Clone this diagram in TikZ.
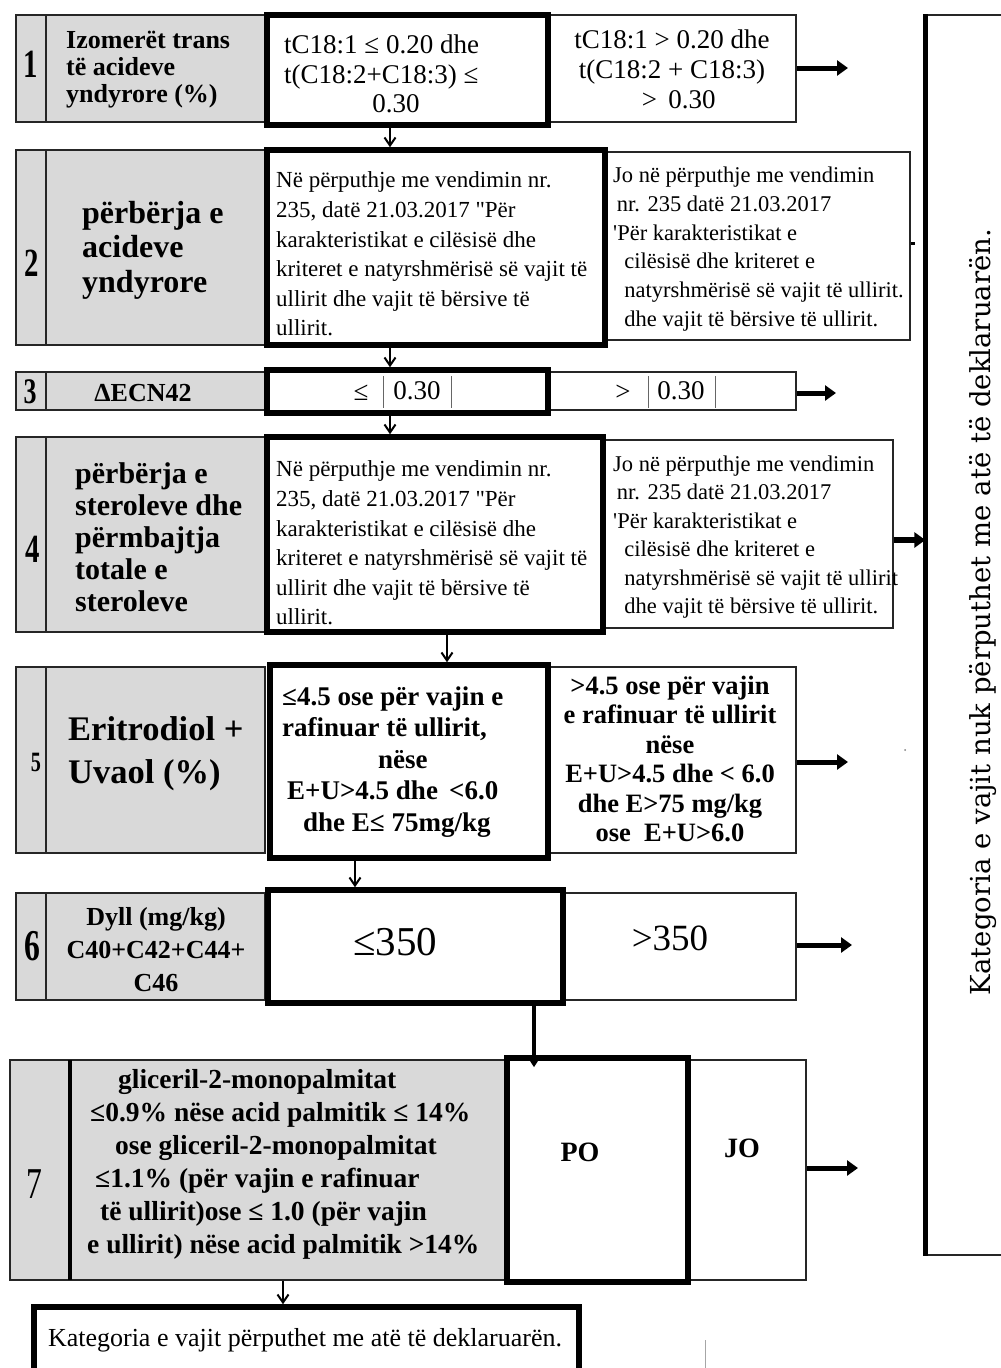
\documentclass[tikz,border=0pt]{standalone}
\usepackage{fontspec}
\usepackage{graphicx}
\setmainfont{Liberation Serif}
\newfontfamily\sidefont{DejaVu Serif}
\newfontfamily\plainfont{Liberation Serif}
\usetikzlibrary{arrows.meta,fit}
\definecolor{cellgray}{HTML}{D9D9D9}
\newcommand\fsz[2]{\fontsize{#1}{#2}\selectfont}
\newcommand\narrow[1]{\scalebox{0.72}[1]{#1}}
\newcommand\dq{{\plainfont"}}
\newcommand\sq{{\plainfont'}}

\tikzset{
  graycell/.style={fill=cellgray, draw=black!85, line width=1.3pt, inner sep=0pt},
  nobox/.style={fill=white, draw=black!85, line width=1.3pt, inner sep=0pt},
  okbox/.style={draw=black, line width=5.5pt, inner sep=0pt},
  rule/.style={draw=black!85, line width=1.3pt},
  num/.style={font=\bfseries\fsz{40}{42}, inner sep=0pt},
  lab/.style={font=\bfseries\fsz{26}{27}, inner sep=0pt},
  txt/.style={font=\fsz{27}{30}, inner sep=0pt},
  small/.style={font=\fsz{23}{29.6}, inner sep=0pt, align=left, anchor=west},
  bold/.style={font=\bfseries\fsz{27}{29}, inner sep=0pt, align=center},
  dn/.style={-{Straight Barb[length=8pt,width=11pt,line width=2pt]}, line width=2pt},
  side/.style={-{Triangle[length=11pt,width=15pt]}, line width=5pt},
  bar/.style={draw=black!60, line width=1pt}
}

\begin{document}
\begin{tikzpicture}[x=1pt,y=-1pt]
\useasboundingbox (0,0) rectangle (1001,1368);
\fill[white] (0,0) rectangle (1001,1368);

% ---------- right-hand result box ----------
\node[nobox, fit={(926,15)(1012,1255)}] (big) {};
\draw[line width=5pt] (big.north west) -- (big.south west);
\node[rotate=90, font=\sidefont\fsz{27.5}{30}, inner sep=0pt] (bigtxt) at (983,612)
  {Kategoria e vajit nuk përputhet me atë të deklaruarën.};

% ---------- row 1 ----------
\node[graycell, fit={(16,15)(265,122)}] (r1g) {};
\draw[rule] (46,15) -- (46,122);
\node[nobox, fit={(548,15)(796,122)}] (r1no) {};
\node[okbox, fit={(267,15)(548,125)}] (r1ok) {};
\node[num] (n1) at (31,64) {\narrow{1}};
\node[lab, align=left, anchor=west] (l1) at (66,70) {Izomerët trans\\të acideve\\yndyrore (\%)};
\node[txt, align=left, anchor=west] (t1a) at (284,62) {tC18:1 ≤ 0.20 dhe\\t(C18:2+C18:3) ≤};
\node[txt] (t1b) at (396,104) {0.30};
\node[txt, align=center] (t1c) at (672,69) {tC18:1 > 0.20 dhe\\t(C18:2 + C18:3)\\ \ \ > \,0.30};
\coordinate (e1) at (848,68);
\draw[side] (r1no.east |- e1) -- (e1);

% ---------- row 2 ----------
\node[graycell, fit={(16,150)(265,345)}] (r2g) {};
\draw[rule] (46,150) -- (46,345);
\node[nobox, fit={(605,152)(910,340)}] (r2no) {};
\node[okbox, fit={(267,150)(605,345)}] (r2ok) {};
\node[num] (n2) at (32,263) {\narrow{2}};
\node[lab, font=\bfseries\fsz{32}{34.5}, align=left, anchor=west] (l2) at (82,250) {përbërja e\\acideve\\yndyrore};
\node[small] (t2a) at (276,254) {Në përputhje me vendimin nr.\\235, datë 21.03.2017 \dq Për\\karakteristikat e cilësisë dhe\\kriteret e natyrshmërisë së vajit të\\ullirit dhe vajit të bërsive të\\ullirit.};
\node[small, font=\fsz{22.5}{28.8}] (t2b) at (613,249) {Jo në përputhje me vendimin\\\,nr. 235 datë 21.03.2017\\\sq Për karakteristikat e\\\ \ cilësisë dhe kriteret e\\\ \ natyrshmërisë së vajit të ullirit.\\\ \ dhe vajit të bërsive të ullirit.};
\draw[line width=3pt] (r2no.east |- 0,243) -- ++(4,0);

% ---------- row 3 ----------
\node[graycell, fit={(16,372)(265,410)}] (r3g) {};
\draw[rule] (46,372) -- (46,410);
\node[nobox, fit={(548,372)(796,410)}] (r3no) {};
\node[okbox, fit={(267,370)(548,413)}] (r3ok) {};
\node[num, font=\bfseries\fsz{36}{38}] (n3) at (30,392) {\narrow{3}};
\node[lab] (l3) at (143,393) {ΔECN42};
\node[txt] (t3a) at (361,393) {≤};
\draw[bar] (383,376) -- (383,408);
\node[txt] (t3b) at (417,391) {0.30};
\draw[bar] (451,376) -- (451,408);
\node[txt] (t3c) at (623,393) {>};
\draw[bar] (648,376) -- (648,408);
\node[txt] (t3d) at (681,391) {0.30};
\draw[bar] (715,376) -- (715,408);
\coordinate (e3) at (836,393);
\draw[side] (r3no.east |- e3) -- (e3);

% ---------- row 4 ----------
\node[graycell, fit={(16,437)(265,632)}] (r4g) {};
\draw[rule] (46,437) -- (46,632);
\node[nobox, fit={(603,440)(893,628)}] (r4no) {};
\node[okbox, fit={(267,437)(603,632)}] (r4ok) {};
\node[num] (n4) at (33,549) {\narrow{4}};
\node[lab, font=\bfseries\fsz{30}{32}, align=left, anchor=west] (l4) at (75,537) {përbërja e\\steroleve dhe\\përmbajtja\\totale e\\steroleve};
\node[small] (t4a) at (276,543) {Në përputhje me vendimin nr.\\235, datë 21.03.2017 \dq Për\\karakteristikat e cilësisë dhe\\kriteret e natyrshmërisë së vajit të\\ullirit dhe vajit të bërsive të\\ullirit.};
\node[small, font=\fsz{22.5}{28.4}] (t4b) at (613,537) {Jo në përputhje me vendimin\\\,nr. 235 datë 21.03.2017\\\sq Për karakteristikat e\\\ \ cilësisë dhe kriteret e\\\ \ natyrshmërisë së vajit të ullirit\\\ \ dhe vajit të bërsive të ullirit.};
\draw[side, line width=6pt] (r4no.east |- 0,540) -- (big.west |- 0,540);

% ---------- row 5 ----------
\node[graycell, fit={(16,667)(265,853)}] (r5g) {};
\draw[rule] (46,667) -- (46,853);
\node[nobox, fit={(548,667)(796,853)}] (r5no) {};
\node[okbox, fit={(270,665)(548,858)}] (r5ok) {};
\node[num, font=\bfseries\fsz{28}{30}] (n5) at (36,762) {\narrow{5}};
\node[lab, font=\bfseries\fsz{34.5}{43}, align=left, anchor=west] (l5) at (68,754) {Eritrodiol +\\Uvaol (\%)};
\node[bold, font=\bfseries\fsz{27}{31.5}, align=left, anchor=west] (t5a) at (282,762) {≤4.5 ose për vajin e\\rafinuar të ullirit,\\\hspace*{96pt}nëse\\\hspace*{5pt}E+U>4.5 dhe \,<6.0\\\hspace*{21pt}dhe E≤ 75mg/kg};
\node[bold, font=\bfseries\fsz{26.5}{29.5}] (t5b) at (670,759) {>4.5 ose për vajin\\e rafinuar të ullirit\\nëse\\E+U>4.5 dhe < 6.0\\dhe E>75 mg/kg\\ose \ E+U>6.0};
\coordinate (e5) at (848,762);
\draw[side] (r5no.east |- e5) -- (e5);

% ---------- row 6 ----------
\node[graycell, fit={(16,893)(265,1000)}] (r6g) {};
\draw[rule] (46,893) -- (46,1000);
\node[nobox, fit={(563,893)(796,1000)}] (r6no) {};
\node[okbox, fit={(268,890)(563,1003)}] (r6ok) {};
\node[num, font=\bfseries\fsz{44}{46}] (n6) at (32,946) {\narrow{6}};
\node[lab, font=\bfseries\fsz{26}{33}, align=center] (l6) at (156,950) {Dyll (mg/kg)\\C40+C42+C44+\\C46};
\node[txt, font=\fsz{41}{44}] (t6a) at (395,942) {≤350};
\node[txt, font=\fsz{37}{40}] (t6b) at (670,938) {>350};
\coordinate (e6) at (852,945);
\draw[side] (r6no.east |- e6) -- (e6);

% ---------- row 7 ----------
\node[graycell, fit={(10,1060)(506,1280)}] (r7g) {};
\draw[line width=4pt] (70,1060) -- (70,1280);
\node[nobox, fit={(688,1060)(806,1280)}] (r7no) {};
\node[okbox, fit={(507,1058)(688,1282)}, fill=white] (po) {};
\node[num, font=\fsz{44}{46}] (n7) at (34,1184) {\narrow{7}};
\node[bold, font=\bfseries\fsz{27.5}{33}, align=left, anchor=west] (t7a) at (87,1164) {\hspace*{31pt}gliceril-2-monopalmitat\\\hspace*{3pt}≤0.9\% nëse acid palmitik ≤ 14\%\\\hspace*{28pt}ose gliceril-2-monopalmitat\\\hspace*{8pt}≤1.1\% (për vajin e rafinuar\\\hspace*{13pt}të ullirit)ose ≤ 1.0 (për vajin\\e ullirit) nëse acid palmitik >14\%};
\node[bold, font=\bfseries\fsz{28}{30}] (t7b) at (580,1152) {PO};
\node[bold, font=\bfseries\fsz{28}{30}] (t7c) at (742,1148) {JO};
\coordinate (e7) at (858,1168);
\draw[side] (r7no.east |- e7) -- (e7);

% ---------- final accepted box ----------
\node[okbox, fit={(34,1307)(579,1380)}] (ok) {};
\node[font=\fsz{26}{28}, inner sep=0pt] (oktxt) at (305,1340) {Kategoria e vajit përputhet me atë të deklaruarën.};

% ---------- flow downwards ----------
\draw[dn] (r1ok.south -| 390,0) -- (r2ok.north -| 390,0);
\draw[dn] (r2ok.south -| 390,0) -- (r3ok.north -| 390,0);
\draw[dn] (r3ok.south -| 390,0) -- (r4ok.north -| 390,0);
\draw[dn] (r4ok.south -| 447,0) -- (r5ok.north -| 447,0);
\draw[dn] (r5ok.south -| 355,0) -- (r6ok.north -| 355,0);
\draw[-{Triangle[length=10pt,width=12pt]}, line width=4.5pt] (r6ok.south -| 534,0) -- ([yshift=-12pt]po.north -| 534,0);
\draw[dn] (r7g.south -| 283,0) -- (ok.north -| 283,0);

% stray marks on the sheet
\draw[black!35, line width=1pt] (705,1340) -- (705,1368);
\fill[black!50] (905,750) circle (1pt);
\end{tikzpicture}
\end{document}
